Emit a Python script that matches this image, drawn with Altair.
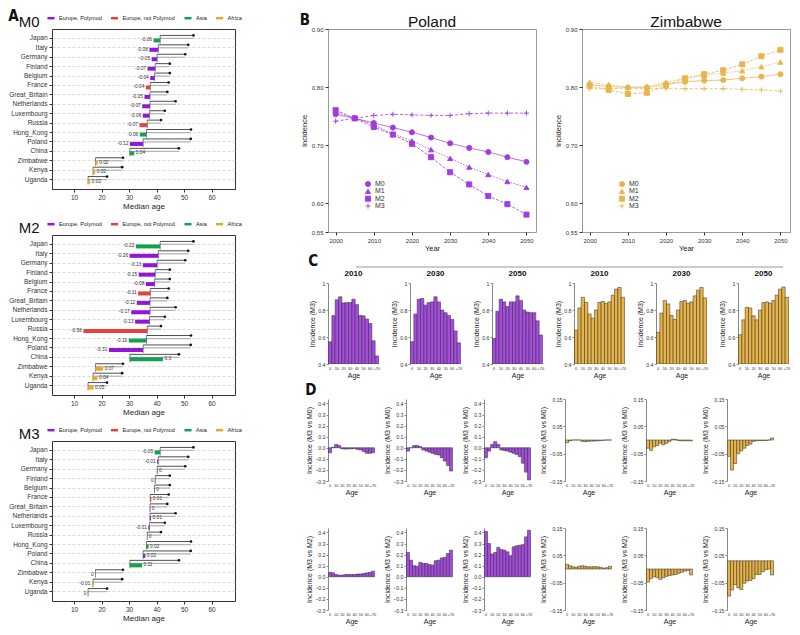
import altair as alt
import pandas as pd

# ---------------- Panel A data ----------------
countries = ["Japan", "Italy", "Germany", "Finland", "Belgium", "France", "Great_Britain",
             "Netherlands", "Luxembourg", "Russia", "Hong_Kong", "Poland", "China",
             "Zimbabwe", "Kenya", "Uganda"]
regions = ["Asia", "Europe, Polymod", "Europe, Polymod", "Europe, Polymod", "Europe, Polymod",
           "Europe, not Polymod", "Europe, Polymod", "Europe, Polymod", "Europe, Polymod",
           "Europe, not Polymod", "Asia", "Europe, Polymod", "Asia", "Africa", "Africa", "Africa"]
median_age_now = [41.3, 40.6, 40.2, 39.5, 39.3, 37.7, 37.6, 37.6, 37.4, 36.6, 36.3, 35.1, 30.3, 17.8, 16.9, 15.1]
median_age_2050 = [53.4, 51.5, 50.4, 44.8, 44.8, 44.4, 43.9, 46.9, 43.0, 41.6, 52.5, 52.4, 48.1, 27.8, 27.5, 22.0]
change_m0 = [-0.06, -0.08, -0.05, -0.07, -0.04, -0.04, -0.05, -0.07, -0.06, -0.07, -0.06, -0.12, 0.04, 0.02, 0.02, 0.02]
change_m2 = [-0.22, -0.26, -0.13, -0.15, -0.08, -0.11, -0.12, -0.17, -0.13, -0.58, -0.16, -0.31, 0.30, 0.07, 0.04, 0.05]
change_m3 = [-0.05, -0.01, 0.003, -0.003, 0.002, 0.01, 0.002, 0.01, -0.01, 0.001, 0.02, 0.02, 0.11, -0.002, -0.01, -0.002]

region_order = ["Europe, Polymod", "Europe, not Polymod", "Asia", "Africa"]
region_colors = ["#9216D8", "#E8413B", "#15A050", "#E9A82B"]

# ---------------- Panel B data ----------------
years = [2000, 2005, 2010, 2015, 2020, 2025, 2030, 2035, 2040, 2045, 2050]
models = ["M0", "M1", "M2", "M3"]
model_dashes = [[1, 0], [1.5, 1.5], [3, 1.5], [3, 2]]
pol_m0 = [0.753, 0.746, 0.738, 0.730, 0.722, 0.713, 0.703, 0.695, 0.688, 0.679, 0.671]
pol_m1 = [0.757, 0.746, 0.735, 0.719, 0.707, 0.692, 0.677, 0.662, 0.649, 0.637, 0.627]
pol_m2 = [0.760, 0.746, 0.731, 0.718, 0.702, 0.679, 0.653, 0.632, 0.612, 0.598, 0.580]
pol_m3 = [0.741, 0.746, 0.751, 0.753, 0.752, 0.751, 0.751, 0.754, 0.755, 0.755, 0.755]
zim_m0 = [0.804, 0.801, 0.799, 0.799, 0.805, 0.809, 0.811, 0.812, 0.815, 0.818, 0.822]
zim_m1 = [0.808, 0.804, 0.800, 0.801, 0.808, 0.815, 0.820, 0.824, 0.828, 0.835, 0.843]
zim_m2 = [0.802, 0.795, 0.788, 0.790, 0.803, 0.815, 0.822, 0.829, 0.839, 0.853, 0.864]
zim_m3 = [0.797, 0.797, 0.798, 0.797, 0.797, 0.797, 0.797, 0.797, 0.796, 0.795, 0.793]

# ---------------- Panels C / D data ----------------
ages = [0, 5, 10, 15, 20, 25, 30, 35, 40, 45, 50, 55, 60, 65, 70]
c_pol_2010 = [0.565, 0.758, 0.876, 0.898, 0.852, 0.855, 0.855, 0.88, 0.84, 0.76, 0.757, 0.733, 0.70, 0.572, 0.46]
c_pol_2030 = [0.565, 0.77, 0.88, 0.885, 0.836, 0.855, 0.86, 0.898, 0.86, 0.80, 0.78, 0.76, 0.73, 0.645, 0.557]
c_pol_2050 = [0.59, 0.79, 0.88, 0.86, 0.825, 0.86, 0.86, 0.905, 0.87, 0.80, 0.785, 0.78, 0.78, 0.72, 0.615]
c_zim_2010 = [0.65, 0.815, 0.894, 0.856, 0.77, 0.74, 0.80, 0.856, 0.864, 0.85, 0.86, 0.91, 0.955, 0.967, 0.894]
c_zim_2030 = [0.634, 0.777, 0.87, 0.845, 0.76, 0.73, 0.80, 0.864, 0.87, 0.85, 0.86, 0.905, 0.947, 0.967, 0.89]
c_zim_2050 = [0.617, 0.727, 0.82, 0.815, 0.757, 0.727, 0.80, 0.855, 0.86, 0.85, 0.87, 0.91, 0.955, 0.97, 0.894]

d0_pol_2010 = [-0.045, 0.005, 0.03, 0.02, -0.01, -0.012, -0.01, -0.01, -0.008, -0.015, -0.02, -0.035, -0.05, -0.05, -0.045]
d0_pol_2030 = [-0.03, 0.0, 0.02, 0.02, 0.01, -0.02, -0.03, -0.04, -0.05, -0.06, -0.065, -0.09, -0.12, -0.16, -0.21]
d0_pol_2050 = [-0.09, -0.03, 0.03, 0.055, 0.03, -0.02, -0.025, -0.03, -0.04, -0.05, -0.06, -0.08, -0.14, -0.22, -0.29]
d0_zim_2010 = [-0.01, -0.003, 0.0, 0.0, 0.0, -0.005, -0.006, -0.005, -0.004, -0.004, -0.003, -0.002, -0.001, 0.0, 0.0]
d0_zim_2030 = [-0.03, -0.038, -0.025, -0.02, -0.012, -0.018, -0.012, -0.005, 0.003, 0.002, -0.002, -0.003, -0.003, -0.003, -0.003]
d0_zim_2050 = [-0.06, -0.11, -0.086, -0.05, -0.04, -0.03, -0.02, -0.015, -0.005, -0.003, -0.002, -0.002, -0.002, 0.0, 0.008]

d2_pol_2010 = [0.04, 0.035, 0.02, 0.015, 0.015, 0.02, 0.02, 0.02, 0.02, 0.025, 0.025, 0.03, 0.035, 0.04, 0.05]
d2_pol_2030 = [0.22, 0.15, 0.10, 0.095, 0.13, 0.12, 0.12, 0.11, 0.105, 0.145, 0.15, 0.17, 0.175, 0.21, 0.24]
d2_pol_2050 = [0.41, 0.30, 0.205, 0.22, 0.265, 0.245, 0.24, 0.225, 0.19, 0.27, 0.28, 0.285, 0.29, 0.36, 0.42]
d2_zim_2010 = [0.017, 0.012, 0.008, 0.007, 0.01, 0.012, 0.01, 0.008, 0.008, 0.009, 0.008, 0.006, 0.003, 0.005, 0.01]
d2_zim_2030 = [-0.048, -0.035, -0.028, -0.032, -0.038, -0.032, -0.027, -0.024, -0.022, -0.02, -0.016, -0.012, -0.008, -0.005, -0.022]
d2_zim_2050 = [-0.099, -0.077, -0.057, -0.069, -0.075, -0.052, -0.044, -0.042, -0.035, -0.02, -0.02, -0.01, -0.003, 0.0, -0.022]
d2_zim_2050_base = [0.03] * 15

POL = "#A23CDC"
ZIM = "#E9B44C"
POL_BAR = "#A54BE0"
ZIM_BAR = "#E8B445"
FONT = "Liberation Sans"
LETTER_FONT = "Liberation Sans Narrow, DejaVu Sans Condensed, Liberation Sans"
SHAPES = ["circle", "triangle-up", "square", "M-1,0L1,0M0,-1L0,1"]


def lab(v):
    r = round(v, 2)
    if abs(r) < 1e-9:
        return "0"
    return f"{r:g}"


def ind(ch):
    return ch.resolve_scale(x="independent", y="independent", color="independent",
                            shape="independent").resolve_legend(color="independent", shape="independent")


def a_panel(name, vals):
    df = pd.DataFrame({"country": countries, "region": regions, "start": median_age_now,
                       "end": median_age_2050, "value": vals, "label": [lab(v) for v in vals]})
    base = alt.Chart(df).transform_calculate(bar_end="datum.start + 40*datum.value")
    xs = alt.Scale(domain=[2, 68.5], nice=False, zero=False)
    xa = alt.Axis(values=[10, 20, 30, 40, 50, 60], labelFontSize=6.5, tickSize=3, title="Median age",
                  titleFontSize=8, titlePadding=2, grid=False, domain=False, labelPadding=2)
    y = alt.Y("country:N", sort=countries, scale=alt.Scale(paddingOuter=0.5), title=None,
              axis=alt.Axis(labelFontSize=6.5, tickSize=3, domain=False, grid=True, gridDash=[3, 2],
                            gridColor="#cccccc", gridWidth=0.7, bandPosition=0.5, labelPadding=2))

    def X(f):
        return alt.X(f, type="quantitative", scale=xs, axis=xa)

    gray = base.mark_rule(color="#b4b4b4", strokeWidth=1.2).encode(x=X("start"), x2="end:Q", y=y)
    black = base.mark_rule(color="#222222", strokeWidth=0.8, yOffset=-3).encode(x=X("start"), x2="end:Q", y=y)
    tick = base.mark_tick(color="#222222", thickness=0.8, size=8, yOffset=1).encode(x=X("start"), y=y)
    dot = base.mark_circle(color="#111111", size=7, opacity=1, yOffset=-3).encode(x=X("end"), y=y)
    bars = base.mark_bar(size=4, yOffset=2).encode(
        x=X("start"), x2="bar_end:Q", y=y,
        color=alt.Color("region:N", scale=alt.Scale(domain=region_order, range=region_colors), title=None,
                        legend=alt.Legend(orient="none", legendX=-5, legendY=-15, direction="horizontal",
                                          symbolType="M-1,-0.35L1,-0.35L1,0.35L-1,0.35Z", symbolSize=50,
                                          symbolStrokeWidth=0, labelFontSize=5.6, columnPadding=8.5,
                                          labelOffset=4, padding=0, labelColor="#222")))
    tneg = base.transform_filter("datum.value < 0").mark_text(align="right", dx=-1.5, dy=2, fontSize=4.8,
                                                             color="#333").encode(x=X("bar_end"), y=y, text="label:N")
    tpos = base.transform_filter("datum.value >= 0").mark_text(align="left", dx=1.5, dy=2, fontSize=4.8,
                                                              color="#333").encode(x=X("bar_end"), y=y, text="label:N")
    return alt.layer(gray, black, tick, dot, bars, tneg, tpos).properties(
        width=183, height=160,
        title=alt.TitleParams(name, anchor="start", fontSize=15, fontWeight="normal", offset=-16, dx=10),
        view=alt.ViewBackground(stroke="#333333", strokeWidth=1))


def b_panel(name, series, color):
    rows = []
    for m, vals in zip(models, series):
        for yr, v in zip(years, vals):
            rows.append({"year": yr, "model": m, "value": v})
    df = pd.DataFrame(rows)
    xs = alt.Scale(domain=[1998, 2052.5], nice=False, zero=False)
    ys = alt.Scale(domain=[0.55, 0.90], nice=False, zero=False)
    xa = alt.Axis(values=[2000, 2010, 2020, 2030, 2040, 2050], format="d", labelFontSize=6, title="Year",
                  titleFontSize=7.5, tickSize=3, titlePadding=1, domain=False, grid=False, labelPadding=2)
    ya = alt.Axis(values=[0.55, 0.6, 0.7, 0.8, 0.9], format=".2f", labelFontSize=6, title="Incidence",
                  titleFontSize=7.5, tickSize=3, titlePadding=3, domain=False, grid=False, labelPadding=2)
    x = alt.X("year:Q", scale=xs, axis=xa)
    y = alt.Y("value:Q", scale=ys, axis=ya)
    base = alt.Chart(df)
    layers = []
    for m, dash in zip(models, model_dashes):
        layers.append(base.transform_filter(alt.datum.model == m).mark_line(
            color=color, strokeWidth=0.8, strokeDash=dash).encode(x=x, y=y))
    shape_scale = alt.Scale(domain=models, range=SHAPES)
    pts = base.mark_point(filled=True, fill=color, stroke=color, strokeWidth=0.9, size=26, opacity=1).encode(
        x=x, y=y, shape=alt.Shape("model:N", scale=shape_scale, legend=None))
    layers.append(pts)
    # in-plot key (M0..M3)
    key_df = pd.DataFrame({"model": models})
    key_y = alt.Y("model:N", scale=alt.Scale(type="point", domain=models, range=[155, 177], padding=0), axis=None)
    key_pts = alt.Chart(key_df).mark_point(filled=True, fill=color, stroke=color, strokeWidth=0.9, size=26,
                                           opacity=1).encode(
        x=alt.value(40), y=key_y, shape=alt.Shape("model:N", scale=shape_scale, legend=None))
    key_txt = alt.Chart(key_df).mark_text(align="left", baseline="middle", fontSize=7, color="#333").encode(
        x=alt.value(47), y=key_y, text="model:N")
    main = alt.layer(*layers)
    key = alt.layer(key_pts, key_txt)
    return alt.layer(main, key).resolve_scale(y="independent").properties(
        width=208, height=203,
        title=alt.TitleParams(name, fontSize=15.5, fontWeight="normal", anchor="middle", offset=-4),
        view=alt.ViewBackground(stroke="#999999", strokeWidth=1))


def bar_panel(vals, bases, color, ydom, yvals, yfmt, ytitle, header=None, width=51, height=81):
    df = pd.DataFrame({"age": ages, "v": vals, "b": bases})
    y = alt.Y("v:Q", scale=alt.Scale(domain=ydom, nice=False, zero=False),
              axis=alt.Axis(values=yvals, format=yfmt, title=ytitle, labelFontSize=5.2, titleFontSize=7,
                            tickSize=2, labelPadding=1, titlePadding=2, domainColor="#888888",
                            tickColor="#888888", grid=False))
    x = alt.X("age:O", scale=alt.Scale(paddingInner=0, paddingOuter=0.15),
              axis=alt.Axis(values=[0, 10, 20, 30, 40, 50, 60, 70],
                            labelExpr="datum.value == 70 ? '+70' : datum.label", labelAngle=0,
                            labelFontSize=3.8, labelPadding=2, ticks=False, domain=False, title="Age",
                            titleFontSize=7, titlePadding=2))
    ch = alt.Chart(df).mark_bar(fill=color, stroke="#2a2a2a", strokeWidth=0.5, clip=True).encode(
        x=x, y=y, y2="b:Q")
    props = dict(width=width, height=height, view=alt.ViewBackground(stroke="transparent"))
    if header:
        props["title"] = alt.TitleParams(header, fontSize=8, fontWeight="bold", offset=3)
    return ch.properties(**props)


def letter(t, offset=0):
    return alt.TitleParams(t, anchor="start", font=LETTER_FONT, fontSize=15, fontWeight="bold", offset=offset)


# ----- left column -----
left = ind(alt.vconcat(a_panel("M0", change_m0), a_panel("M2", change_m2), a_panel("M3", change_m3),
                       spacing=8, title=letter("A", -10)))

# ----- B -----
b_row = ind(alt.hconcat(b_panel("Poland", [pol_m0, pol_m1, pol_m2, pol_m3], POL),
                        b_panel("Zimbabwe", [zim_m0, zim_m1, zim_m2, zim_m3], ZIM),
                        spacing=16, title=letter("B", -14)))

# ----- C -----
c_dom = [0.4, 1.0]
c_vals = [0.4, 0.6, 0.8, 1.0]
base04 = [0.4] * 15
c_panels = [
    bar_panel(c_pol_2010, base04, POL_BAR, c_dom, c_vals, "~g", "Incidence (M3)", "2010"),
    bar_panel(c_pol_2030, base04, POL_BAR, c_dom, c_vals, "~g", "Incidence (M3)", "2030"),
    bar_panel(c_pol_2050, base04, POL_BAR, c_dom, c_vals, "~g", "Incidence (M3)", "2050"),
    bar_panel(c_zim_2010, base04, ZIM_BAR, c_dom, c_vals, "~g", "Incidence (M3)", "2010"),
    bar_panel(c_zim_2030, base04, ZIM_BAR, c_dom, c_vals, "~g", "Incidence (M3)", "2030"),
    bar_panel(c_zim_2050, base04, ZIM_BAR, c_dom, c_vals, "~g", "Incidence (M3)", "2050"),
]
strip = alt.Chart(pd.DataFrame({"a": [0]})).mark_rule(color="#999999", strokeWidth=1).encode(
    x=alt.value(28), x2=alt.value(455), y=alt.value(0)).properties(
    width=450, height=1, view=alt.ViewBackground(stroke="transparent"))
c_row = ind(alt.hconcat(*c_panels, spacing=9))
c_block = ind(alt.vconcat(strip, c_row, spacing=0, title=letter("C", -3)))

# ----- D -----
zero15 = [0.0] * 15
p_dom = [-0.3, 0.44]
p_vals = [-0.3, -0.2, -0.1, 0.0, 0.1, 0.2, 0.3, 0.4]
z_dom = [-0.15, 0.15]
z_vals = [-0.15, -0.05, 0.05, 0.15]
t0 = "Incidence (M3 vs M0)"
t2 = "Incidence (M3 vs M2)"
DW, DH = 47, 82
d1 = ind(alt.hconcat(
    bar_panel(d0_pol_2010, zero15, POL_BAR, p_dom, p_vals, ".1f", t0, width=DW, height=DH),
    bar_panel(d0_pol_2030, zero15, POL_BAR, p_dom, p_vals, ".1f", t0, width=DW, height=DH),
    bar_panel(d0_pol_2050, zero15, POL_BAR, p_dom, p_vals, ".1f", t0, width=DW, height=DH),
    bar_panel(d0_zim_2010, zero15, ZIM_BAR, z_dom, z_vals, ".2f", t0, width=DW, height=DH),
    bar_panel(d0_zim_2030, zero15, ZIM_BAR, z_dom, z_vals, ".2f", t0, width=DW, height=DH),
    bar_panel(d0_zim_2050, zero15, ZIM_BAR, z_dom, z_vals, ".2f", t0, width=DW, height=DH),
    spacing=6))
d2 = ind(alt.hconcat(
    bar_panel(d2_pol_2010, zero15, POL_BAR, p_dom, p_vals, ".1f", t2, width=DW, height=DH),
    bar_panel(d2_pol_2030, zero15, POL_BAR, p_dom, p_vals, ".1f", t2, width=DW, height=DH),
    bar_panel(d2_pol_2050, zero15, POL_BAR, p_dom, p_vals, ".1f", t2, width=DW, height=DH),
    bar_panel(d2_zim_2010, zero15, ZIM_BAR, z_dom, z_vals, ".2f", t2, width=DW, height=DH),
    bar_panel(d2_zim_2030, zero15, ZIM_BAR, z_dom, z_vals, ".2f", t2, width=DW, height=DH),
    bar_panel(d2_zim_2050, d2_zim_2050_base, ZIM_BAR, z_dom, z_vals, ".2f", t2, width=DW, height=DH),
    spacing=6))
d_block = ind(alt.vconcat(d1, d2, spacing=28, title=letter("D", -1)))

right = ind(alt.vconcat(b_row, c_block, d_block, spacing=2))

chart = ind(alt.hconcat(left, right, spacing=56)).properties(padding=0).configure(
    font=FONT).configure_axis(labelColor="#333333", titleColor="#222222", titleFontWeight="normal",
                              tickColor="#333333").configure_title(color="#111111").configure_legend(
    labelFont=FONT)

chart.save("out.html", embed_options={"renderer": "svg", "actions": False})
